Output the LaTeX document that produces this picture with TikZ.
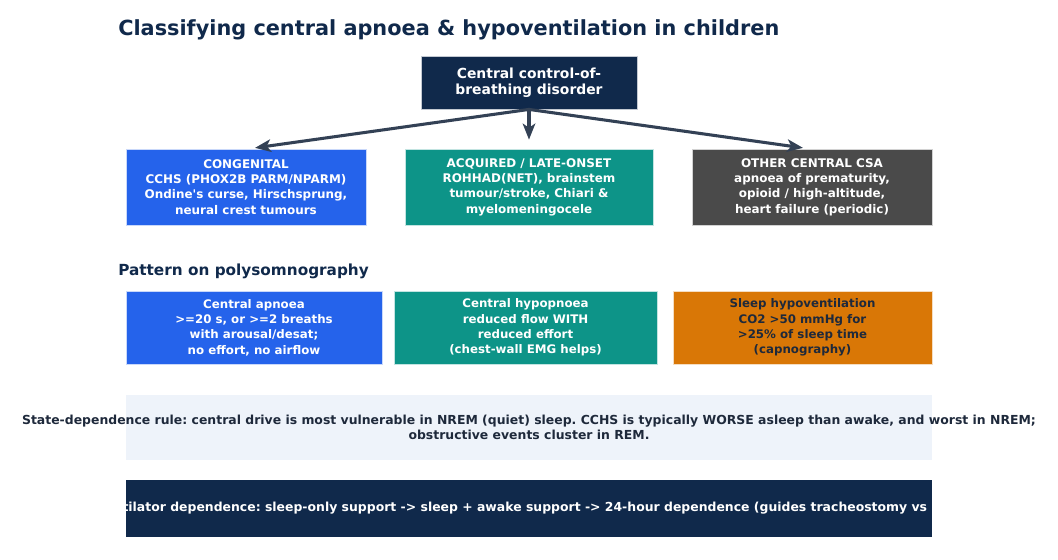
\documentclass[tikz,border=0pt]{standalone}
\usepackage{fontspec}
\setmainfont{DejaVu Sans}[Ligatures=TeXOff]
\usetikzlibrary{arrows.meta}
\definecolor{navy}{HTML}{10294B}
\definecolor{cblue}{HTML}{2563EB}
\definecolor{cteal}{HTML}{0D9488}
\definecolor{cgray}{HTML}{4A4A4A}
\definecolor{corange}{HTML}{D97706}
\definecolor{clight}{HTML}{EEF3FA}
\definecolor{carrow}{HTML}{334155}
\definecolor{cdark}{HTML}{1E293B}
\newcommand\pu{0.72pt}
\frenchspacing
\begin{document}
\begin{tikzpicture}[x=0.72pt,y=-0.72pt,
  box/.style={rectangle, inner sep=0pt, align=center, text=white,
    draw=white!75!#1, fill=#1, line width=0.6pt},
  rowone/.style={box=#1, font=\bfseries\fontsize{8.6}{11}\selectfont,
    minimum width=240*\pu, minimum height=76*\pu},
  rowtwo/.style={box=#1, font=\bfseries\fontsize{8.5}{11}\selectfont,
    minimum height=73*\pu},
  arr/.style={draw=carrow, line width=2.2pt,
    -{Stealth[length=11.5pt, width=9pt, inset=3pt]}},
  heading/.style={anchor=west, inner sep=0pt, text=navy, font=\bfseries}
]
\path[use as bounding box, fill=white] (0,0) rectangle (1058,559);

\node[heading, font=\bfseries\fontsize{15}{18}\selectfont] (title) at (118,30)
  {Classifying central apnoea \& hypoventilation in children};

\node[box=navy, font=\bfseries\fontsize{10}{11.5}\selectfont,
  minimum width=216*\pu, minimum height=53*\pu] (top) at (529,82.5)
  {Central control-of-\\breathing disorder};

\node[rowone=cblue] (c1) at (246,187)
  {CONGENITAL\\CCHS (PHOX2B PARM/NPARM)\\Ondine's curse, Hirschsprung,\\neural crest tumours};
\node[rowone=cteal, minimum width=248*\pu] (c2) at (529,187)
  {ACQUIRED / LATE-ONSET\\ROHHAD(NET), brainstem\\tumour/stroke, Chiari \&\\myelomeningocele};
\node[rowone=cgray] (c3) at (812,187)
  {OTHER CENTRAL CSA\\apnoea of prematurity,\\opioid / high-altitude,\\heart failure (periodic)};

\draw[arr, shorten >=5*\pu] (top.south) -- ([xshift=4*\pu]c1.north);
\draw[arr, shorten >=9*\pu] (top.south) -- (c2.north);
\draw[arr, shorten >=5*\pu] (top.south) -- ([xshift=-4*\pu]c3.north);

\node[heading, font=\bfseries\fontsize{11}{13}\selectfont] (pat) at (118,271)
  {Pattern on polysomnography};

\node[rowtwo=cblue, minimum width=256*\pu] (p1) at (254,327.5)
  {Central apnoea\\>=20 s, or >=2 breaths\\with arousal/desat;\\no effort, no airflow};
\node[rowtwo=cteal, minimum width=263*\pu] (p2) at (525.5,327.5)
  {Central hypopnoea\\reduced flow WITH\\reduced effort\\(chest-wall EMG helps)};
\node[rowtwo=corange, minimum width=259*\pu, text=cdark] (p3) at (802.5,327.5)
  {Sleep hypoventilation\\CO2 >50 mmHg for\\>25\% of sleep time\\(capnography)};

\node[rectangle, fill=clight, inner sep=0pt, minimum width=806*\pu,
  minimum height=65*\pu] (state) at (529,427.5) {};
\node[inner sep=0pt, align=center, text=cdark,
  font=\bfseries\fontsize{8.95}{10.3}\selectfont] (statetxt) at (529,427.5)
  {State-dependence rule: central drive is most vulnerable in NREM (quiet) sleep. CCHS is typically WORSE asleep than awake, and worst in NREM;\\obstructive events cluster in REM.};

\node[rectangle, fill=navy, inner sep=0pt, minimum width=806*\pu,
  minimum height=57*\pu] (bot) at (529,508.5) {};
\begin{scope}
  \clip (bot.north west) rectangle (bot.south east);
  \node[inner sep=0pt, text=white, font=\bfseries\fontsize{8.95}{10.3}\selectfont] (vent) at (529,508.5)
    {Ventilator dependence: sleep-only support -> sleep + awake support -> 24-hour dependence (guides tracheostomy vs NIV)};
\end{scope}
\end{tikzpicture}
\end{document}
